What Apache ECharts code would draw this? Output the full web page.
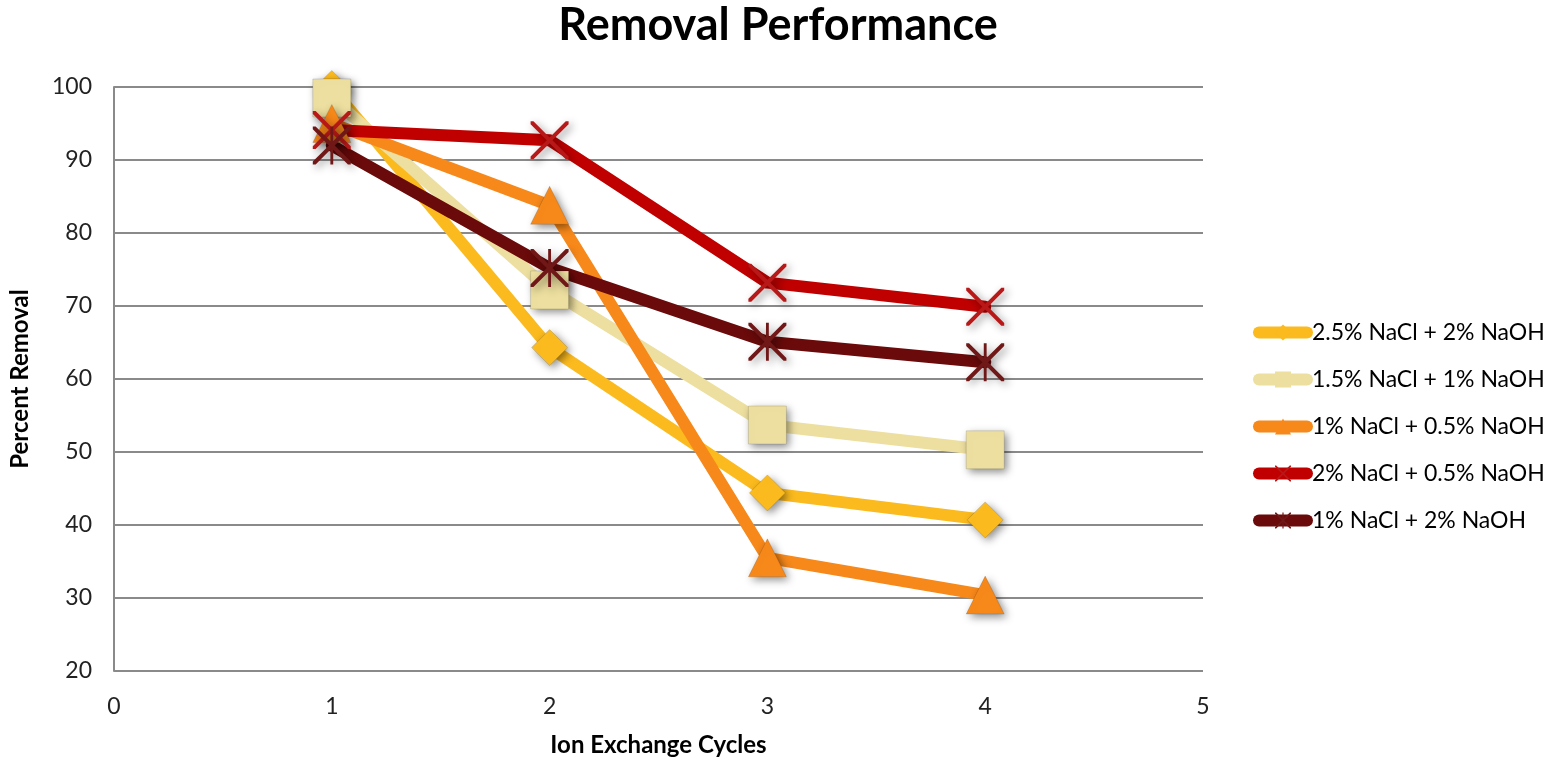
<!DOCTYPE html>
<html>
<head>
<meta charset="utf-8">
<script src="https://cdn.jsdelivr.net/npm/echarts@6/dist/echarts.min.js"></script>
<style>
  html, body { margin: 0; padding: 0; background: #fff; }
  #chart { width: 1558px; height: 762px; }
</style>
</head>
<body>
<div id="chart"></div>
<script>
// Ion exchange regeneration trials: percent removal per cycle
const cycles = [1, 2, 3, 4];
const seriesNames = [
  '2.5% NaCl + 2% NaOH',
  '1.5% NaCl + 1% NaOH',
  '1% NaCl + 0.5% NaOH',
  '2% NaCl + 0.5% NaOH',
  '1% NaCl + 2% NaOH'
];
const nacl25_naoh2 = [99.8, 64.3, 44.4, 40.7];
const nacl15_naoh1 = [98.5, 72.2, 53.7, 50.3];
const nacl1_naoh05 = [95.0, 83.8, 35.5, 30.4];
const nacl2_naoh05 = [94.1, 92.7, 73.2, 69.9];
const nacl1_naoh2 = [92.0, 75.2, 65.1, 62.3];
const yTicks = [20, 30, 40, 50, 60, 70, 80, 90, 100];
const xTicks = [0, 1, 2, 3, 4, 5];

const colors = ['#FBBA1E', '#EDDF9F', '#F7881A', '#C00000', '#6A0A0A'];
const markerColors = ['#FBBA1E', '#EDDF9F', '#F7881A', '#B81818', '#701818'];

// Thin diagonal cross and asterisk markers
const crossPath = 'path://M0,0 L3,0 L20,17 L37,0 L40,0 L40,3 L23,20 L40,37 L40,40 L37,40 L20,23 L3,40 L0,40 L0,37 L17,20 L0,3 Z';
const starPath = 'path://M0,0 L3,0 L20,17 L37,0 L40,0 L40,3 L23,20 L40,37 L40,40 L37,40 L20,23 L3,40 L0,40 L0,37 L17,20 L0,3 Z M18.5,0 L21.5,0 L21.5,40 L18.5,40 Z';
const symbols = ['diamond', 'rect', 'triangle', crossPath, starPath];
const symbolSizes = [36, 38, 38, 38, 38];

const valueSets = [nacl25_naoh2, nacl15_naoh1, nacl1_naoh05, nacl2_naoh05, nacl1_naoh2];
const FONT = 'Lato, "Open Sans", sans-serif';

const series = valueSets.map((vals, i) => ({
  name: seriesNames[i],
  type: 'line',
  data: cycles.map((c, k) => [c, vals[k]]),
  symbol: symbols[i],
  symbolSize: symbolSizes[i],
  lineStyle: { color: colors[i], width: 12, cap: 'round', join: 'round' },
  itemStyle: {
    color: markerColors[i],
    borderColor: i < 3 ? 'rgba(0,0,0,0.12)' : markerColors[i],
    borderWidth: i < 3 ? 1 : 0,
    shadowColor: 'rgba(0,0,0,0.45)',
    shadowBlur: 8,
    shadowOffsetX: 3,
    shadowOffsetY: 3
  },
  emphasis: { disabled: true },
  animation: false
}));

const legendData = seriesNames.map((name, i) => ({
  name: name,
  itemStyle: { color: markerColors[i], borderWidth: 0, shadowBlur: 0, shadowOffsetX: 0, shadowOffsetY: 0 },
  lineStyle: { color: colors[i], width: 12, cap: 'round' }
}));

const chart = echarts.init(document.getElementById('chart'));
chart.setOption({
  backgroundColor: '#fff',
  color: colors,
  title: {
    text: 'Removal Performance',
    left: 773,
    textAlign: 'center',
    top: -2,
    textStyle: { fontFamily: FONT, fontSize: 45, fontWeight: 'bold', color: '#000' }
  },
  grid: { left: 113, right: 355, top: 87, bottom: 91 },
  legend: {
    orient: 'vertical',
    left: 1248,
    top: 316,
    itemWidth: 48,
    itemHeight: 20,
    itemGap: 24,
    data: legendData,
    textStyle: { fontFamily: FONT, fontSize: 23, color: '#000' }
  },
  xAxis: {
    type: 'value',
    min: xTicks[0],
    max: xTicks[xTicks.length - 1],
    interval: 1,
    name: 'Ion Exchange Cycles',
    nameLocation: 'middle',
    nameGap: 62,
    nameTextStyle: { fontFamily: FONT, fontSize: 24, fontWeight: 'bold', color: '#000' },
    axisLine: { show: false },
    axisTick: { show: false },
    splitLine: { show: false },
    axisLabel: { fontFamily: FONT, fontSize: 23, color: '#222', margin: 24 }
  },
  yAxis: {
    type: 'value',
    min: yTicks[0],
    max: yTicks[yTicks.length - 1],
    interval: 10,
    name: 'Percent Removal',
    nameLocation: 'middle',
    nameGap: 82,
    nameTextStyle: { fontFamily: FONT, fontSize: 24, fontWeight: 'bold', color: '#000' },
    axisLine: { show: true, lineStyle: { color: '#8a8a8a', width: 2 } },
    axisTick: { show: false },
    splitLine: { show: true, lineStyle: { color: '#8a8a8a', width: 2 } },
    axisLabel: { fontFamily: FONT, fontSize: 23, color: '#222', margin: 22 }
  },
  series: series
});
</script>
</body>
</html>
